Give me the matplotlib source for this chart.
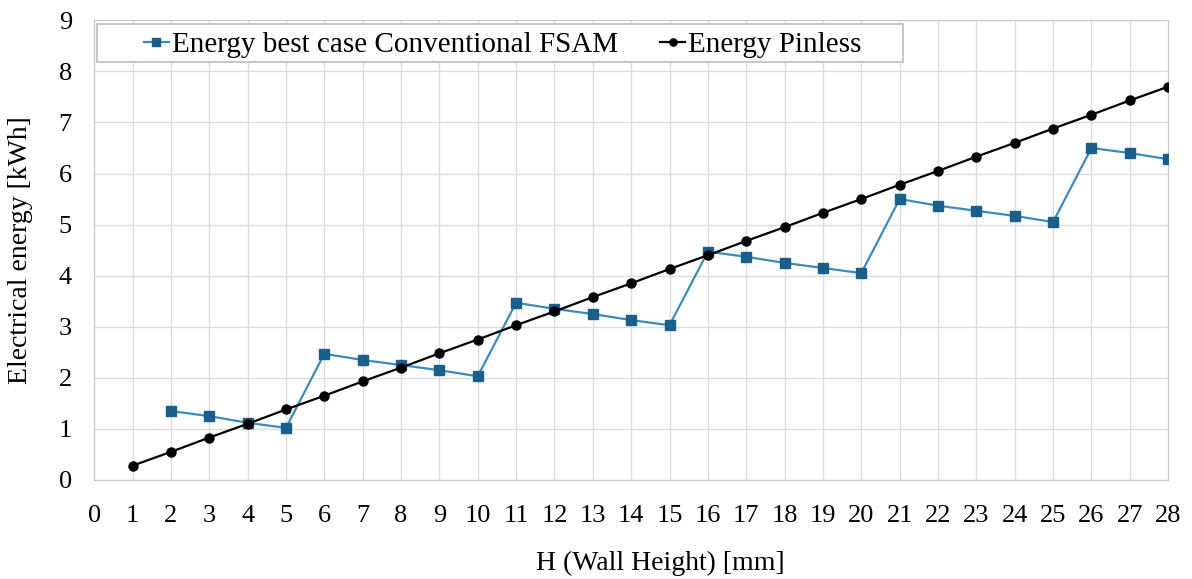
import matplotlib
matplotlib.use('Agg')
import matplotlib.pyplot as plt
from matplotlib.patches import Rectangle

plt.rcParams['font.family'] = ['Liberation Serif', 'DejaVu Serif']

heights = list(range(1, 29))
conv_h = list(range(2, 29))
conv_energy = [1.35, 1.25, 1.12, 1.02, 2.47, 2.35, 2.25, 2.15, 2.03,
               3.47, 3.35, 3.25, 3.13, 3.03, 4.47, 4.37, 4.25, 4.15, 4.05,
               5.50, 5.37, 5.27, 5.17, 5.05, 6.50, 6.40, 6.28]
pinless_energy = [0.28, 0.55, 0.83, 1.10, 1.38, 1.65, 1.93, 2.20, 2.48, 2.75,
                  3.03, 3.30, 3.58, 3.85, 4.13, 4.40, 4.68, 4.95, 5.23, 5.50,
                  5.78, 6.05, 6.33, 6.60, 6.88, 7.15, 7.43, 7.70]

fig = plt.figure(figsize=(11.92, 5.79), dpi=100)
ax = fig.add_axes([0.079, 0.171, 0.901, 0.794])

ax.plot(conv_h, conv_energy, color='#3a8cbc', lw=1.6, marker='s', ms=7,
        mfc='#1a5f8c', mec='#1a5f8c', label='Energy best case Conventional FSAM', zorder=3)
ax.plot(heights, pinless_energy, color='black', lw=1.6, marker='o', ms=6.5,
        label='Energy Pinless', zorder=4)

ax.set_xlim(0, 28)
ax.set_ylim(0, 9)
ax.set_xticks(range(0, 29))
ax.set_yticks(range(0, 10))
ax.grid(True, color='#dcdcdc', lw=1)
ax.set_axisbelow(True)
for s in ax.spines.values():
    s.set_color('#c8c8c8')
ax.tick_params(length=0, labelsize=19)
ax.tick_params(axis='x', pad=18)
ax.tick_params(axis='y', pad=16)
ax.set_xlabel('H (Wall Height) [mm]', fontsize=20)
ax.set_ylabel('Electrical energy [kWh]', fontsize=20)
ax.xaxis.set_label_coords(0.527, -0.155)
ax.yaxis.set_label_coords(-0.057, 0.5)

# legend box drawn separately (wide padding in the original)
ax.add_patch(Rectangle((0.003, 0.909), 0.750, 0.082, transform=ax.transAxes,
                       facecolor='white', edgecolor='#bdbdbd', lw=1.2, zorder=5))
leg = ax.legend(loc='center left', bbox_to_anchor=(0.046, 0.947), ncol=2, fontsize=21,
                frameon=False, handlelength=0.86, handletextpad=0.1,
                columnspacing=1.45, markerscale=0.8, borderpad=0, borderaxespad=0)
leg.set_zorder(6)

fig.savefig('out.png', dpi=100)
